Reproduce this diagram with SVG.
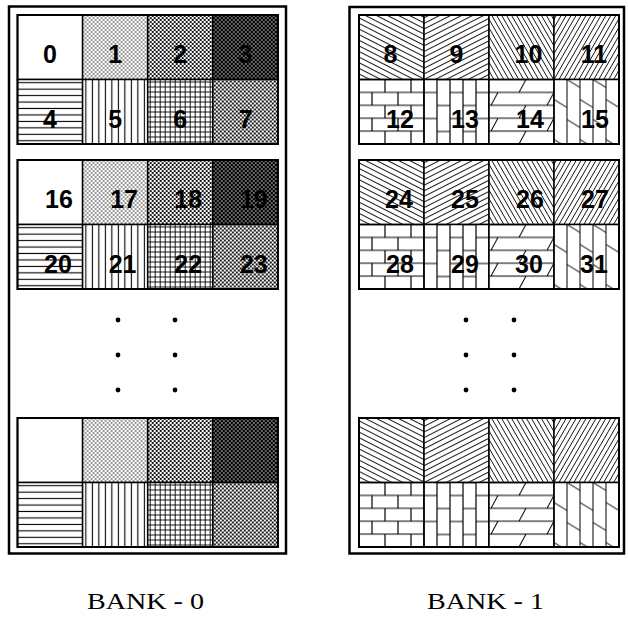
<svg xmlns="http://www.w3.org/2000/svg" width="628" height="618" viewBox="0 0 628 618">
<style>
.c{stroke:#000;stroke-width:1.5}
.blk{fill:none;stroke:#000;stroke-width:2}
.outer{fill:none;stroke:#000;stroke-width:2.5}
.n{font-family:"Liberation Sans",Arial,sans-serif;font-weight:bold;font-size:25px;text-anchor:middle;fill:#000}
.bank{font-family:"Liberation Serif","Times New Roman",serif;font-size:24px;fill:#000}
.ln{stroke:#000;fill:none}
.dot{fill:#000}
</style>
<defs>
<pattern id="p0" width="10" height="10" patternUnits="userSpaceOnUse"><rect width="10" height="10" fill="#fff"/></pattern>
<pattern id="p1" width="4" height="4" patternUnits="userSpaceOnUse"><rect width="4" height="4" fill="#fff"/><circle cx="1" cy="1" r="0.75"/><circle cx="3" cy="3" r="0.75"/></pattern>
<pattern id="p2" width="4" height="4" patternUnits="userSpaceOnUse"><rect width="4" height="4" fill="#fff"/><circle cx="1" cy="1" r="1.1"/><circle cx="3" cy="3" r="1.1"/></pattern>
<pattern id="p3" width="4" height="4" patternUnits="userSpaceOnUse"><rect width="4" height="4" fill="#000"/><circle cx="1" cy="1" r="0.75" fill="#fff"/><circle cx="3" cy="3" r="0.75" fill="#fff"/></pattern>
<pattern id="p4" width="10" height="6.45" patternUnits="userSpaceOnUse"><rect width="10" height="6.45" fill="#fff"/><path class="ln" stroke-width="1.1" d="M0 3.2H10"/></pattern>
<pattern id="p5" width="6.5" height="10" patternUnits="userSpaceOnUse"><rect width="6.5" height="10" fill="#fff"/><path class="ln" stroke-width="1.1" d="M3.25 0V10"/></pattern>
<pattern id="p6" width="5" height="5" patternUnits="userSpaceOnUse"><rect width="5" height="5" fill="#fff"/><path class="ln" stroke-width="0.9" d="M2.5 0V5M0 2.5H5"/></pattern>
<pattern id="p7" width="4" height="4" patternUnits="userSpaceOnUse"><rect width="4" height="4" fill="#fff"/><path class="ln" stroke-width="0.9" d="M-1 -1L5 5M5 -1L-1 5"/></pattern>
<pattern id="p8" width="10" height="5" patternUnits="userSpaceOnUse" patternTransform="rotate(27)"><rect width="10" height="5" fill="#fff"/><path class="ln" stroke-width="0.9" d="M0 2.5H10"/></pattern>
<pattern id="p9" width="10" height="5" patternUnits="userSpaceOnUse" patternTransform="rotate(-27)"><rect width="10" height="5" fill="#fff"/><path class="ln" stroke-width="0.9" d="M0 2.5H10"/></pattern>
<pattern id="p10" width="10" height="4.3" patternUnits="userSpaceOnUse" patternTransform="rotate(60)"><rect width="10" height="4.3" fill="#fff"/><path class="ln" stroke-width="0.85" d="M0 2.15H10"/></pattern>
<pattern id="p11" width="10" height="4.3" patternUnits="userSpaceOnUse" patternTransform="rotate(-60)"><rect width="10" height="4.3" fill="#fff"/><path class="ln" stroke-width="0.85" d="M0 2.15H10"/></pattern>
<pattern id="p12" width="26" height="25.8" patternUnits="userSpaceOnUse"><rect width="26" height="25.8" fill="#fff"/><path class="ln" stroke-width="1.2" d="M0 0H26M0 12.9H26M0 25.8H26M0 0V12.9M26 0V12.9M13 12.9V25.8"/></pattern>
<pattern id="p13" width="26" height="26" patternUnits="userSpaceOnUse"><rect width="26" height="26" fill="#fff"/><path class="ln" stroke-width="1.2" d="M0 0V26M13 0V26M26 0V26M0 13H13M13 0H26M13 26H26"/></pattern>
<pattern id="p14" width="56" height="25.8" patternUnits="userSpaceOnUse"><rect width="56" height="25.8" fill="#fff"/><path class="ln" stroke-width="1" d="M0 0H56M0 12.9H56M0 25.8H56M30 12.9L37 0M2 25.8L9 12.9"/></pattern>
<pattern id="p15" width="26" height="40" patternUnits="userSpaceOnUse"><rect width="26" height="40" fill="#fff"/><path class="ln" stroke-width="1" d="M0 0V40M13 0V40M26 0V40M0 20L13 28M13 0L26 8M13 40L26 48"/></pattern>
</defs>

<g id="bank-0">
<rect class="outer" x="9" y="6.5" width="277" height="547"/>
<g id="b0-block-1">
<g id="cell-0" transform="translate(17.5,15)"><rect class="c" width="65.1" height="64.5" fill="url(#p0)"/><text class="n" x="32.5" y="48">0</text></g>
<g id="cell-1" transform="translate(82.6,15)"><rect class="c" width="65.1" height="64.5" fill="url(#p1)"/><text class="n" x="32.5" y="48">1</text></g>
<g id="cell-2" transform="translate(147.7,15)"><rect class="c" width="65.1" height="64.5" fill="url(#p2)"/><text class="n" x="32.5" y="48">2</text></g>
<g id="cell-3" transform="translate(212.8,15)"><rect class="c" width="65.1" height="64.5" fill="url(#p3)"/><text class="n" x="32.5" y="48">3</text></g>
<g id="cell-4" transform="translate(17.5,79.5)"><rect class="c" width="65.1" height="64.5" fill="url(#p4)"/><text class="n" x="32.5" y="48.5">4</text></g>
<g id="cell-5" transform="translate(82.6,79.5)"><rect class="c" width="65.1" height="64.5" fill="url(#p5)"/><text class="n" x="32.5" y="48.5">5</text></g>
<g id="cell-6" transform="translate(147.7,79.5)"><rect class="c" width="65.1" height="64.5" fill="url(#p6)"/><text class="n" x="32.5" y="48.5">6</text></g>
<g id="cell-7" transform="translate(212.8,79.5)"><rect class="c" width="65.1" height="64.5" fill="url(#p7)"/><text class="n" x="33" y="48.5">7</text></g>
<rect class="blk" x="17.5" y="15" width="260.4" height="129"/>
</g>
<g id="b0-block-2">
<g id="cell-16" transform="translate(17.5,160)"><rect class="c" width="65.1" height="64.5" fill="url(#p0)"/><text class="n" x="41.5" y="48">16</text></g>
<g id="cell-17" transform="translate(82.6,160)"><rect class="c" width="65.1" height="64.5" fill="url(#p1)"/><text class="n" x="41.5" y="48">17</text></g>
<g id="cell-18" transform="translate(147.7,160)"><rect class="c" width="65.1" height="64.5" fill="url(#p2)"/><text class="n" x="40.5" y="48">18</text></g>
<g id="cell-19" transform="translate(212.8,160)"><rect class="c" width="65.1" height="64.5" fill="url(#p3)"/><text class="n" x="41" y="48">19</text></g>
<g id="cell-20" transform="translate(17.5,224.5)"><rect class="c" width="65.1" height="64.5" fill="url(#p4)"/><text class="n" x="40.5" y="48.5">20</text></g>
<g id="cell-21" transform="translate(82.6,224.5)"><rect class="c" width="65.1" height="64.5" fill="url(#p5)"/><text class="n" x="40" y="48.5">21</text></g>
<g id="cell-22" transform="translate(147.7,224.5)"><rect class="c" width="65.1" height="64.5" fill="url(#p6)"/><text class="n" x="40.5" y="48.5">22</text></g>
<g id="cell-23" transform="translate(212.8,224.5)"><rect class="c" width="65.1" height="64.5" fill="url(#p7)"/><text class="n" x="41" y="48.5">23</text></g>
<rect class="blk" x="17.5" y="160" width="260.4" height="129"/>
</g>
<g id="b0-ellipsis">
<circle class="dot" cx="118" cy="320" r="2.4"/><circle class="dot" cx="175" cy="320" r="2.4"/>
<circle class="dot" cx="118" cy="355" r="2.4"/><circle class="dot" cx="175" cy="355" r="2.4"/>
<circle class="dot" cx="118" cy="390" r="2.4"/><circle class="dot" cx="175" cy="390" r="2.4"/>
</g>
<g id="b0-block-n">
<g id="b0n-c0" transform="translate(17.5,418)"><rect class="c" width="65.1" height="64.5" fill="url(#p0)"/></g>
<g id="b0n-c1" transform="translate(82.6,418)"><rect class="c" width="65.1" height="64.5" fill="url(#p1)"/></g>
<g id="b0n-c2" transform="translate(147.7,418)"><rect class="c" width="65.1" height="64.5" fill="url(#p2)"/></g>
<g id="b0n-c3" transform="translate(212.8,418)"><rect class="c" width="65.1" height="64.5" fill="url(#p3)"/></g>
<g id="b0n-c4" transform="translate(17.5,482.5)"><rect class="c" width="65.1" height="64.5" fill="url(#p4)"/></g>
<g id="b0n-c5" transform="translate(82.6,482.5)"><rect class="c" width="65.1" height="64.5" fill="url(#p5)"/></g>
<g id="b0n-c6" transform="translate(147.7,482.5)"><rect class="c" width="65.1" height="64.5" fill="url(#p6)"/></g>
<g id="b0n-c7" transform="translate(212.8,482.5)"><rect class="c" width="65.1" height="64.5" fill="url(#p7)"/></g>
<rect class="blk" x="17.5" y="418" width="260.4" height="129"/>
</g>
<text id="label-bank-0" class="bank" x="87" y="609" textLength="117" lengthAdjust="spacingAndGlyphs">BANK - 0</text>
</g>

<g id="bank-1">
<rect class="outer" x="349.5" y="7" width="274.5" height="546.5"/>
<g id="b1-block-1">
<g id="cell-8" transform="translate(359,15)"><rect class="c" width="65" height="64.5" fill="url(#p8)"/><text class="n" x="31.5" y="47.5">8</text></g>
<g id="cell-9" transform="translate(424,15)"><rect class="c" width="65" height="64.5" fill="url(#p9)"/><text class="n" x="32.5" y="47.5">9</text></g>
<g id="cell-10" transform="translate(489,15)"><rect class="c" width="65" height="64.5" fill="url(#p10)"/><text class="n" x="39.5" y="47.5">10</text></g>
<g id="cell-11" transform="translate(554,15)"><rect class="c" width="65" height="64.5" fill="url(#p11)"/><text class="n" x="40" y="47.5">11</text></g>
<g id="cell-12" transform="translate(359,79.5)"><rect class="c" width="65" height="64.5" fill="url(#p12)"/><text class="n" x="41" y="48.5">12</text></g>
<g id="cell-13" transform="translate(424,79.5)"><rect class="c" width="65" height="64.5" fill="url(#p13)"/><text class="n" x="41" y="48.5">13</text></g>
<g id="cell-14" transform="translate(489,79.5)"><rect class="c" width="65" height="64.5" fill="url(#p14)"/><text class="n" x="41" y="48.5">14</text></g>
<g id="cell-15" transform="translate(554,79.5)"><rect class="c" width="65" height="64.5" fill="url(#p15)"/><text class="n" x="41" y="48.5">15</text></g>
<rect class="blk" x="359" y="15" width="260" height="129"/>
</g>
<g id="b1-block-2">
<g id="cell-24" transform="translate(359,160)"><rect class="c" width="65" height="64.5" fill="url(#p8)"/><text class="n" x="40" y="47.5">24</text></g>
<g id="cell-25" transform="translate(424,160)"><rect class="c" width="65" height="64.5" fill="url(#p9)"/><text class="n" x="41" y="47.5">25</text></g>
<g id="cell-26" transform="translate(489,160)"><rect class="c" width="65" height="64.5" fill="url(#p10)"/><text class="n" x="41" y="47.5">26</text></g>
<g id="cell-27" transform="translate(554,160)"><rect class="c" width="65" height="64.5" fill="url(#p11)"/><text class="n" x="41" y="47.5">27</text></g>
<g id="cell-28" transform="translate(359,224.5)"><rect class="c" width="65" height="64.5" fill="url(#p12)"/><text class="n" x="41" y="48.5">28</text></g>
<g id="cell-29" transform="translate(424,224.5)"><rect class="c" width="65" height="64.5" fill="url(#p13)"/><text class="n" x="41" y="48.5">29</text></g>
<g id="cell-30" transform="translate(489,224.5)"><rect class="c" width="65" height="64.5" fill="url(#p14)"/><text class="n" x="40" y="48.5">30</text></g>
<g id="cell-31" transform="translate(554,224.5)"><rect class="c" width="65" height="64.5" fill="url(#p15)"/><text class="n" x="40" y="48.5">31</text></g>
<rect class="blk" x="359" y="160" width="260" height="129"/>
</g>
<g id="b1-ellipsis">
<circle class="dot" cx="466" cy="320" r="2.4"/><circle class="dot" cx="514" cy="320" r="2.4"/>
<circle class="dot" cx="466" cy="355" r="2.4"/><circle class="dot" cx="514" cy="355" r="2.4"/>
<circle class="dot" cx="466" cy="390" r="2.4"/><circle class="dot" cx="514" cy="390" r="2.4"/>
</g>
<g id="b1-block-n">
<g id="b1n-c0" transform="translate(359,418)"><rect class="c" width="65" height="64.5" fill="url(#p8)"/></g>
<g id="b1n-c1" transform="translate(424,418)"><rect class="c" width="65" height="64.5" fill="url(#p9)"/></g>
<g id="b1n-c2" transform="translate(489,418)"><rect class="c" width="65" height="64.5" fill="url(#p10)"/></g>
<g id="b1n-c3" transform="translate(554,418)"><rect class="c" width="65" height="64.5" fill="url(#p11)"/></g>
<g id="b1n-c4" transform="translate(359,482.5)"><rect class="c" width="65" height="64.5" fill="url(#p12)"/></g>
<g id="b1n-c5" transform="translate(424,482.5)"><rect class="c" width="65" height="64.5" fill="url(#p13)"/></g>
<g id="b1n-c6" transform="translate(489,482.5)"><rect class="c" width="65" height="64.5" fill="url(#p14)"/></g>
<g id="b1n-c7" transform="translate(554,482.5)"><rect class="c" width="65" height="64.5" fill="url(#p15)"/></g>
<rect class="blk" x="359" y="418" width="260" height="129"/>
</g>
<text id="label-bank-1" class="bank" x="427" y="609" textLength="117" lengthAdjust="spacingAndGlyphs">BANK - 1</text>
</g>
</svg>
